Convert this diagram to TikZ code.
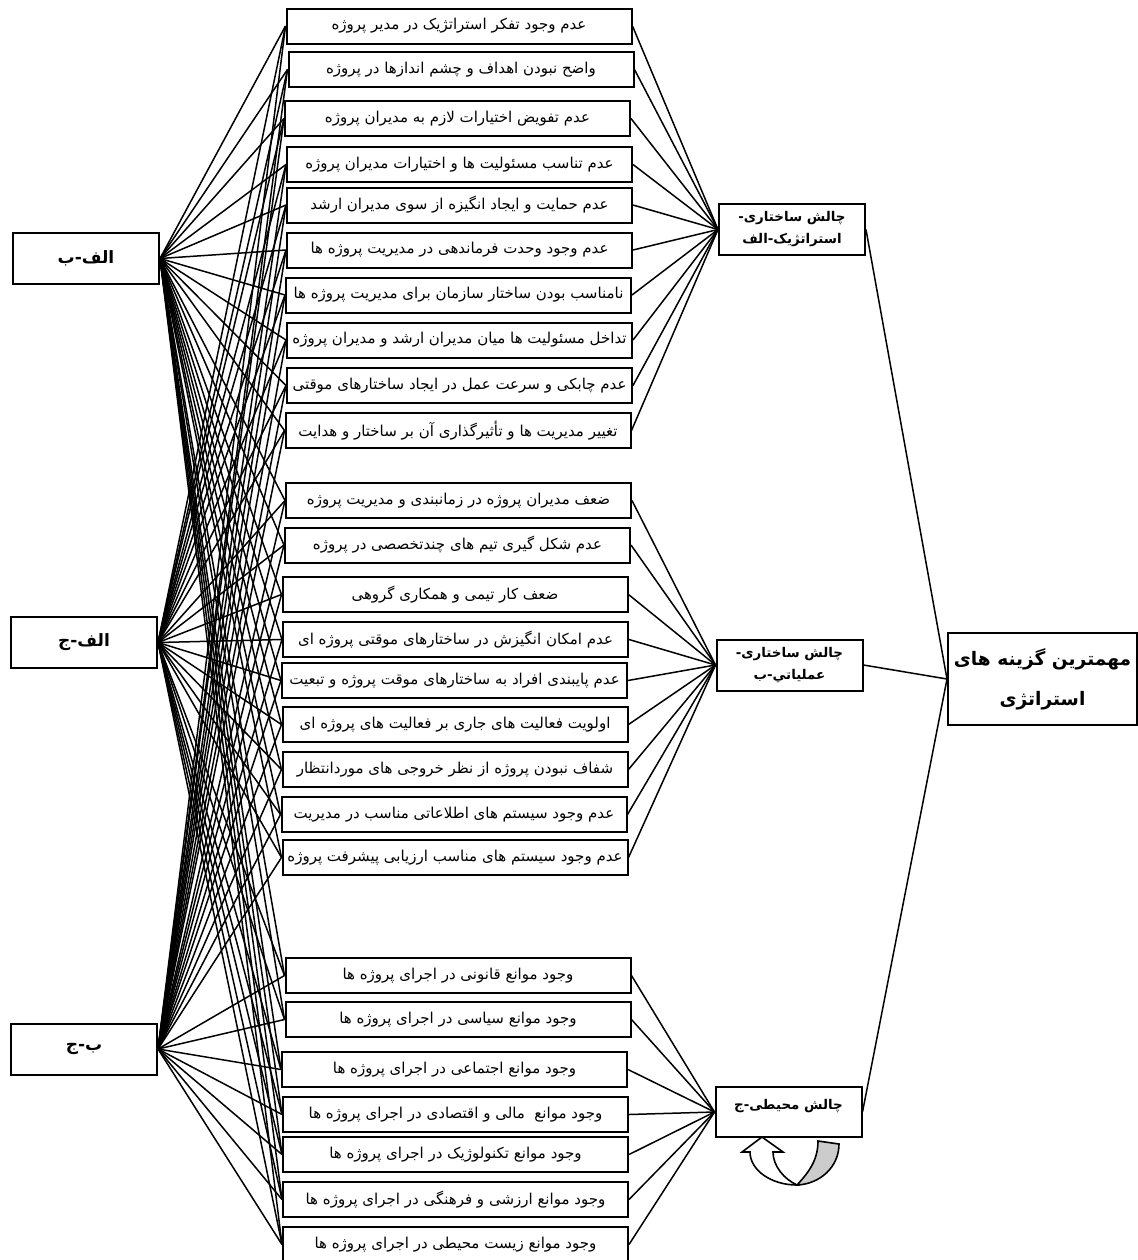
\documentclass[tikz,border=0pt]{standalone}
\usepackage{fontspec}
\newfontfamily\fa[Script=Arabic]{DejaVu Sans}
\TeXXeTstate=1
\newcommand{\FA}[1]{{\fa\beginR #1\endR}}
\begin{document}
\begin{tikzpicture}[x=0.5pt,y=-0.5pt,
  mbox/.style={draw, line width=1pt, minimum width=172.5pt, minimum height=17.5pt, inner sep=0pt, font=\fontsize{7.5}{9}\selectfont},
  lbox/.style={draw, line width=1pt, minimum width=73pt, minimum height=25.5pt, inner sep=0pt, font=\fontsize{8.5}{10}\selectfont\bfseries},
  gbox/.style={draw, line width=1pt, minimum width=73pt, minimum height=25.5pt, inner sep=0pt, align=center, font=\fontsize{6.7}{11}\selectfont\bfseries},
  fbox/.style={draw, line width=1pt, minimum width=94.5pt, minimum height=46pt, inner sep=0pt, align=center, font=\fontsize{9.3}{20}\selectfont\bfseries},
  link/.style={line width=0.75pt},
  uturn/.style={draw, line width=0.8pt}]
\useasboundingbox (0,0) rectangle (1138,1260);

% left nodes
\node[lbox] (lA) at (86,258.5) {\FA{الف-ب}};
\node[lbox] (lB) at (84,642.5) {\FA{الف-ج}};
\node[lbox] (lC) at (84,1049) {\FA{ب-ج}};

% middle boxes
\node[mbox] (m1) at (459,26) {\FA{عدم وجود تفکر استراتژیک در مدیر پروژه}};
\node[mbox] (m2) at (461,69.5) {\FA{واضح نبودن اهداف و چشم اندازها در پروژه}};
\node[mbox] (m3) at (457.5,118.5) {\FA{عدم تفویض اختیارات لازم به مدیران پروژه}};
\node[mbox] (m4) at (459.5,164.5) {\FA{عدم تناسب مسئولیت ها و اختیارات مدیران پروژه}};
\node[mbox] (m5) at (459.5,205) {\FA{عدم حمایت و ایجاد انگیزه از سوی مدیران ارشد}};
\node[mbox] (m6) at (459.5,250) {\FA{عدم وجود وحدت فرماندهی در مدیریت پروژه ها}};
\node[mbox] (m7) at (458.5,295) {\FA{نامناسب بودن ساختار سازمان برای مدیریت پروژه ها}};
\node[mbox] (m8) at (459.5,340) {\FA{تداخل مسئولیت ها میان مدیران ارشد و مدیران پروژه}};
\node[mbox] (m9) at (459.5,385.5) {\FA{عدم چابکی و سرعت عمل در ایجاد ساختارهای موقتی}};
\node[mbox] (m10) at (458,430.5) {\FA{تغییر مدیریت ها و تأثیرگذاری آن بر ساختار و هدایت}};
\node[mbox] (m11) at (458.5,500.5) {\FA{ضعف مدیران پروژه در زمانبندی و مدیریت پروژه}};
\node[mbox] (m12) at (457.5,545) {\FA{عدم شکل گیری تیم های چندتخصصی در پروژه}};
\node[mbox] (m13) at (455,594.5) {\FA{ضعف کار تیمی و همکاری گروهی}};
\node[mbox] (m14) at (455.5,639.5) {\FA{عدم امکان انگیزش در ساختارهای موقتی پروژه ای}};
\node[mbox] (m15) at (454.5,680.5) {\FA{عدم پایبندی افراد به ساختارهای موقت پروژه و تبعیت}};
\node[mbox] (m16) at (455,724.5) {\FA{اولویت فعالیت های جاری بر فعالیت های پروژه ای}};
\node[mbox] (m17) at (455,769.5) {\FA{شفاف نبودن پروژه از نظر خروجی های موردانتظار}};
\node[mbox] (m18) at (454,814.5) {\FA{عدم وجود سیستم های اطلاعاتی مناسب در مدیریت}};
\node[mbox] (m19) at (455,857.5) {\FA{عدم وجود سیستم های مناسب ارزیابی پیشرفت پروژه}};
\node[mbox] (m20) at (458,975.5) {\FA{وجود موانع قانونی در اجرای پروژه ها}};
\node[mbox] (m21) at (458,1019.5) {\FA{وجود موانع سیاسی در اجرای پروژه ها}};
\node[mbox] (m22) at (454.5,1069.5) {\FA{وجود موانع اجتماعی در اجرای پروژه ها}};
\node[mbox] (m23) at (455.5,1114.5) {\FA{وجود موانع\ \ مالی و اقتصادی در اجرای پروژه ها}};
\node[mbox] (m24) at (455.5,1154.5) {\FA{وجود موانع تکنولوژیک در اجرای پروژه ها}};
\node[mbox] (m25) at (455.5,1199.5) {\FA{وجود موانع ارزشی و فرهنگی در اجرای پروژه ها}};
\node[mbox] (m26) at (455.5,1244.5) {\FA{وجود موانع زیست محیطی در اجرای پروژه ها}};

% group nodes
\node[gbox] (g1) at (792,229.5) {\FA{چالش ساختاری-}\\\FA{استراتژیک-الف}};
\node[gbox] (g2) at (789.5,665) {\FA{چالش ساختاری-}\\\FA{عملیاتي-ب}};
\node[gbox, minimum height=25pt, text height=10pt, text depth=13pt] (g3) at (788.5,1112) {\FA{چالش محیطی-ج}};

% final node
\node[fbox] (fin) at (1042.5,679) {\FA{مهمترین گزینه های}\\\FA{استراتژی}};

% connectors from left nodes to every middle box
\foreach \i in {1,...,26} {
  \draw[link] (lA.east) -- (m\i.west);
  \draw[link] (lB.east) -- (m\i.west);
  \draw[link] (lC.east) -- (m\i.west);
}
\foreach \i in {1,...,10} {\draw[link] (m\i.east) -- (g1.west);}
\foreach \i in {11,...,19} {\draw[link] (m\i.east) -- (g2.west);}
\foreach \i in {20,...,26} {\draw[link] (m\i.east) -- (g3.west);}
\draw[link] (g1.east) -- (fin.west);
\draw[link] (g2.east) -- (fin.west);
\draw[link] (g3.east) -- (fin.west);

% U-turn arrow below g3
\draw[uturn, fill=gray!40] (818,1141) -- (839,1144) .. controls (839,1167) and (820,1184) .. (797,1185) .. controls (809,1172) and (818,1160) .. (818,1141) -- cycle;
\draw[uturn, fill=white] (797,1185) .. controls (771,1185) and (750,1170) .. (750,1152) -- (742,1152) -- (762,1137) -- (783,1152) -- (773,1152) .. controls (773,1166) and (784,1179) .. (797,1185) -- cycle;
\end{tikzpicture}
\end{document}
